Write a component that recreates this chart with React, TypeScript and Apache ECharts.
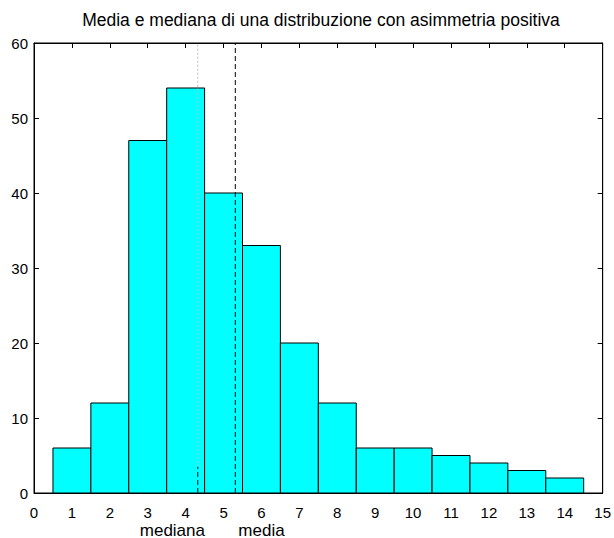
import React, { useEffect, useRef } from "react";
import * as echarts from "echarts";

const categories = [1, 2, 3, 4, 5, 6, 7, 8, 9, 10, 11, 12, 13, 14];
const counts = [6, 12, 47, 54, 40, 33, 20, 12, 6, 6, 5, 4, 3, 2];
const medianValue = 4.32;
const meanValue = 5.31;
const medianMarkTop = 3.5;
const annotations = [
  { text: "mediana", x: 3.65 },
  { text: "media", x: 6.0 },
];
const title = "Media e mediana di una distribuzione con asimmetria positiva";

const FONT = "Liberation Sans, Arial, sans-serif";

export default function App() {
  const ref = useRef<HTMLDivElement>(null);
  useEffect(() => {
    if (!ref.current) return;
    const chart = echarts.init(ref.current, undefined, { renderer: "svg" });
    const axisCommon = {
      type: "value" as const,
      axisLine: { show: true, onZero: false, lineStyle: { color: "#000", width: 1 } },
      axisTick: { show: true, inside: true, length: 5, lineStyle: { color: "#000" } },
      splitLine: { show: false },
    };
    chart.setOption({
      animation: false,
      title: {
        text: title,
        left: 316,
        textAlign: "center",
        top: 6,
        textStyle: { fontFamily: FONT, fontSize: 17.5, fontWeight: "normal", color: "#000" },
      },
      grid: { left: 34, right: 8, top: 43, bottom: 45, show: true, borderColor: "#000", borderWidth: 1, backgroundColor: "transparent" },
      xAxis: [
        {
          ...axisCommon,
          min: 0,
          max: 15,
          interval: 1,
          position: "bottom",
          axisLabel: { color: "#000", fontFamily: FONT, fontSize: 15, margin: 12 },
        },
        {
          ...axisCommon,
          min: 0,
          max: 15,
          interval: 1,
          position: "top",
          axisLabel: { show: false },
        },
      ],
      yAxis: [
        {
          ...axisCommon,
          min: 0,
          max: 60,
          interval: 10,
          position: "left",
          axisLabel: { color: "#000", fontFamily: FONT, fontSize: 15, margin: 6 },
        },
        {
          ...axisCommon,
          min: 0,
          max: 60,
          interval: 10,
          position: "right",
          axisLabel: { show: false },
        },
      ],
      series: [
        {
          type: "custom",
          data: categories.map((c, i) => [c, counts[i]]),
          renderItem: (params: any, api: any) => {
            const x = api.value(0);
            const y = api.value(1);
            const p0 = api.coord([x - 0.5, y]);
            const p1 = api.coord([x + 0.5, 0]);
            return {
              type: "rect",
              shape: { x: p0[0], y: p0[1], width: p1[0] - p0[0], height: p1[1] - p0[1] },
              style: { fill: "#00ffff", stroke: "#000", lineWidth: 1 },
            };
          },
          z: 2,
        },
        {
          type: "line",
          xAxisIndex: 1,
          yAxisIndex: 1,
          data: [
            [medianValue, medianMarkTop],
            [medianValue, 60],
          ],
          symbol: "none",
          lineStyle: { color: "#bdbdbd", width: 1, type: [2, 2] },
          z: 3,
        },
        {
          type: "line",
          data: [
            [medianValue, 0],
            [medianValue, medianMarkTop],
          ],
          symbol: "none",
          lineStyle: { color: "#000", width: 1, type: [5, 3] },
          z: 3,
        },
        {
          type: "line",
          data: [
            [meanValue, 0],
            [meanValue, 60],
          ],
          symbol: "none",
          lineStyle: { color: "#000", width: 1, type: [5, 3] },
          z: 3,
        },
        {
          type: "custom",
          clip: false,
          data: annotations.map((a) => [a.x, 0]),
          renderItem: (params: any, api: any) => {
            const p = api.coord([api.value(0), 0]);
            return {
              type: "text",
              x: p[0],
              y: p[1] + 37,
              style: {
                text: annotations[params.dataIndex].text,
                fontFamily: FONT,
                fontSize: 17,
                fill: "#000",
                align: "center",
                verticalAlign: "middle",
              },
            };
          },
          z: 4,
        },
      ],
    });
    return () => chart.dispose();
  }, []);
  return <div ref={ref} style={{ width: 614, height: 538, position: "absolute", left: 0, top: 0, background: "#fff" }} />;
}
